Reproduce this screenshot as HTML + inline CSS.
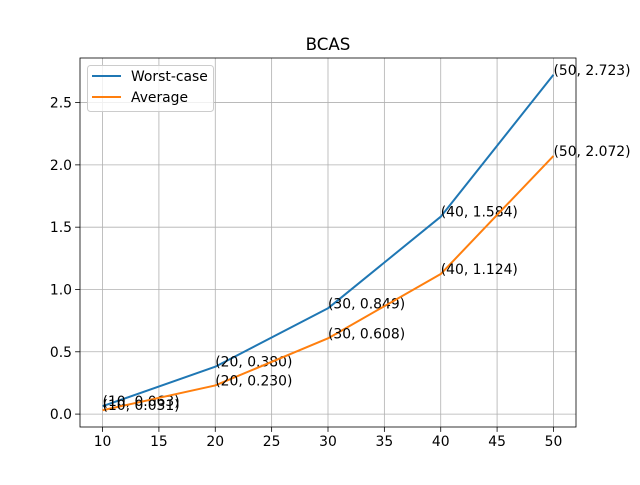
<!DOCTYPE html>
<html><head><meta charset="utf-8"><style>
body{margin:0;background:#fff}
svg text{font-family:"DejaVu Sans","Liberation Sans",sans-serif;fill:#000}
</style></head><body>
<svg id="c" width="640" height="480" xmlns="http://www.w3.org/2000/svg"></svg>
<script>
const xs=[10,20,30,40,50];
const worst=[0.063,0.380,0.849,1.584,2.723];
const avg=[0.031,0.230,0.608,1.124,2.072];
const worstLabels=["0.063","0.380","0.849","1.584","2.723"];
const avgLabels=["0.031","0.230","0.608","1.124","2.072"];
const xTicks=[10,15,20,25,30,35,40,45,50];
const yTicks=[0,0.5,1.0,1.5,2.0,2.5];
const yTickLabels=["0.0","0.5","1.0","1.5","2.0","2.5"];

const L=80,R=576,T=58,B=427;
const xmin=8,xmax=52,ymin=-0.1036,ymax=2.8576;
const X=v=>L+(v-xmin)/(xmax-xmin)*(R-L);
const Y=v=>B-(v-ymin)/(ymax-ymin)*(B-T);
const svg=document.getElementById('c');
const NS="http://www.w3.org/2000/svg";
function mk(tag,attrs,text){const e=document.createElementNS(NS,tag);for(const k in attrs)e.setAttribute(k,attrs[k]);if(text!==undefined)e.textContent=text;svg.appendChild(e);return e;}

let e;
e=mk('rect',{x:L,y:T,width:R-L,height:B-T,fill:'#fff'});


xTicks.forEach((t,i)=>{
  e=mk('line',{x1:X(t),x2:X(t),y1:T,y2:B,stroke:'#b0b0b0','stroke-width':0.8});
  
  
  mk('line',{x1:X(t),x2:X(t),y1:B,y2:B+4.9,stroke:'#000','stroke-width':0.8});
  e=mk('text',{x:X(t),y:B+19,'font-size':13.9,'text-anchor':'middle'},String(t));
  
  
});
yTicks.forEach((t,i)=>{
  e=mk('line',{x1:L,x2:R,y1:Y(t),y2:Y(t),stroke:'#b0b0b0','stroke-width':0.8});
  
  
  mk('line',{x1:L-4.9,x2:L,y1:Y(t),y2:Y(t),stroke:'#000','stroke-width':0.8});
  e=mk('text',{x:L-8,y:Y(t)+5,'font-size':13.9,'text-anchor':'end'},yTickLabels[i]);
  
  
});
function series(data,color,name,labels){
  e=mk('polyline',{points:xs.map((x,i)=>X(x)+','+Y(data[i])).join(' '),fill:'none',stroke:color,'stroke-width':2,'stroke-linejoin':'round'});
  
  
  xs.forEach((x,i)=>{
    e=mk('text',{x:X(x),y:Y(data[i]),'font-size':13.9},'('+x+', '+labels[i]+')');
    
    
  });
}
series(worst,'#1f77b4','worst-case-line',worstLabels);
series(avg,'#ff7f0e','average-line',avgLabels);
e=mk('rect',{x:L,y:T,width:R-L,height:B-T,fill:'none',stroke:'#000','stroke-width':0.8});


e=mk('text',{x:(L+R)/2,y:T-8,'font-size':16.7,'text-anchor':'middle'},'BCAS');


e=mk('rect',{x:87.5,y:65.5,width:126,height:46,rx:3,fill:'#fff','fill-opacity':0.8,stroke:'#ccc','stroke-width':1});


[['Worst-case','#1f77b4',76],['Average','#ff7f0e',97]].forEach(([n,c,y])=>{
  mk('line',{x1:92,x2:121,y1:y,y2:y,stroke:c,'stroke-width':2});
  e=mk('text',{x:131,y:y+5,'font-size':13.9},n);
  
  
});
</script>
</body></html>
